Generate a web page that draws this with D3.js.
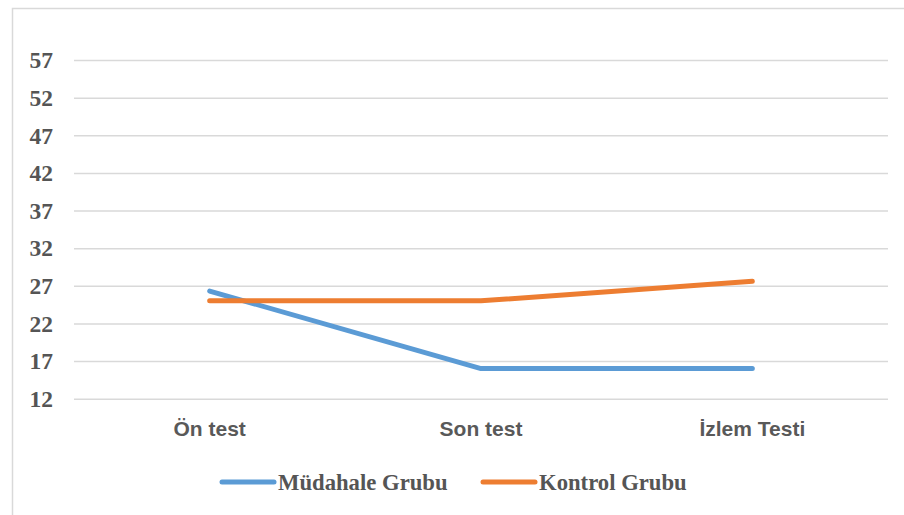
<!DOCTYPE html>
<html><head><meta charset="utf-8">
<script src="https://cdn.jsdelivr.net/npm/d3@7"></script>
<style>body{margin:0;background:#fff}svg{display:block}</style>
</head><body><svg id="c" width="904" height="515"></svg>
<script>
const categories = ["Ön test", "Son test", "İzlem Testi"];
const mudahale = [26.3, 16.0, 16.0];
const kontrol = [25.0, 25.0, 27.6];
const yTicks = [12, 17, 22, 27, 32, 37, 42, 47, 52, 57];
const seriesNames = ["Müdahale Grubu", "Kontrol Grubu"];
const seriesColors = ["#5B9BD5", "#ED7D31"];

const svg = d3.select("#c");
svg.append("rect").attr("x", 12.5).attr("y", 8.5).attr("width", 900).attr("height", 520)
  .attr("fill", "none").attr("stroke", "#d9d9d9").attr("stroke-width", 1.5);

const x = d3.scaleBand().domain(categories).range([74, 888]);
const y = d3.scaleLinear().domain([12, 57]).range([398.7, 60]);

const gy = svg.append("g").attr("transform", "translate(74,0)")
  .call(d3.axisLeft(y).tickValues(yTicks).tickSize(-814).tickPadding(21).tickFormat(d3.format("d")));
gy.select(".domain").remove();
gy.selectAll(".tick line").attr("stroke", "#d9d9d9").attr("stroke-width", 1.5);
gy.selectAll(".tick text").attr("fill", "#555").attr("font-family", "Liberation Serif")
  .attr("font-weight", "bold").attr("font-size", 23.5).attr("dy", "0.33em");

const gx = svg.append("g").attr("transform", "translate(0,398.7)")
  .call(d3.axisBottom(x).tickSize(0).tickPadding(22));
gx.select(".domain").remove();
gx.selectAll(".tick text").attr("fill", "#595959").attr("font-family", "Liberation Sans")
  .attr("font-weight", "bold").attr("font-size", 21);

const line = d3.line().x((d, i) => x(categories[i]) + x.bandwidth() / 2).y(d => y(d));
[mudahale, kontrol].forEach((s, k) => {
  svg.append("path").datum(s).attr("d", line).attr("fill", "none")
    .attr("stroke", seriesColors[k]).attr("stroke-width", 5)
    .attr("stroke-linecap", "round").attr("stroke-linejoin", "round");
});

const legX = [222, 483];
seriesNames.forEach((n, k) => {
  const g = svg.append("g").attr("transform", `translate(${legX[k]},482)`);
  g.append("line").attr("x1", 0).attr("x2", 52).attr("stroke", seriesColors[k])
    .attr("stroke-width", 5).attr("stroke-linecap", "round");
  g.append("text").attr("x", 56).attr("y", 7.5).text(n).attr("fill", "#555")
    .attr("font-family", "Liberation Serif").attr("font-weight", "bold").attr("font-size", 22.7);
});
</script></body></html>
